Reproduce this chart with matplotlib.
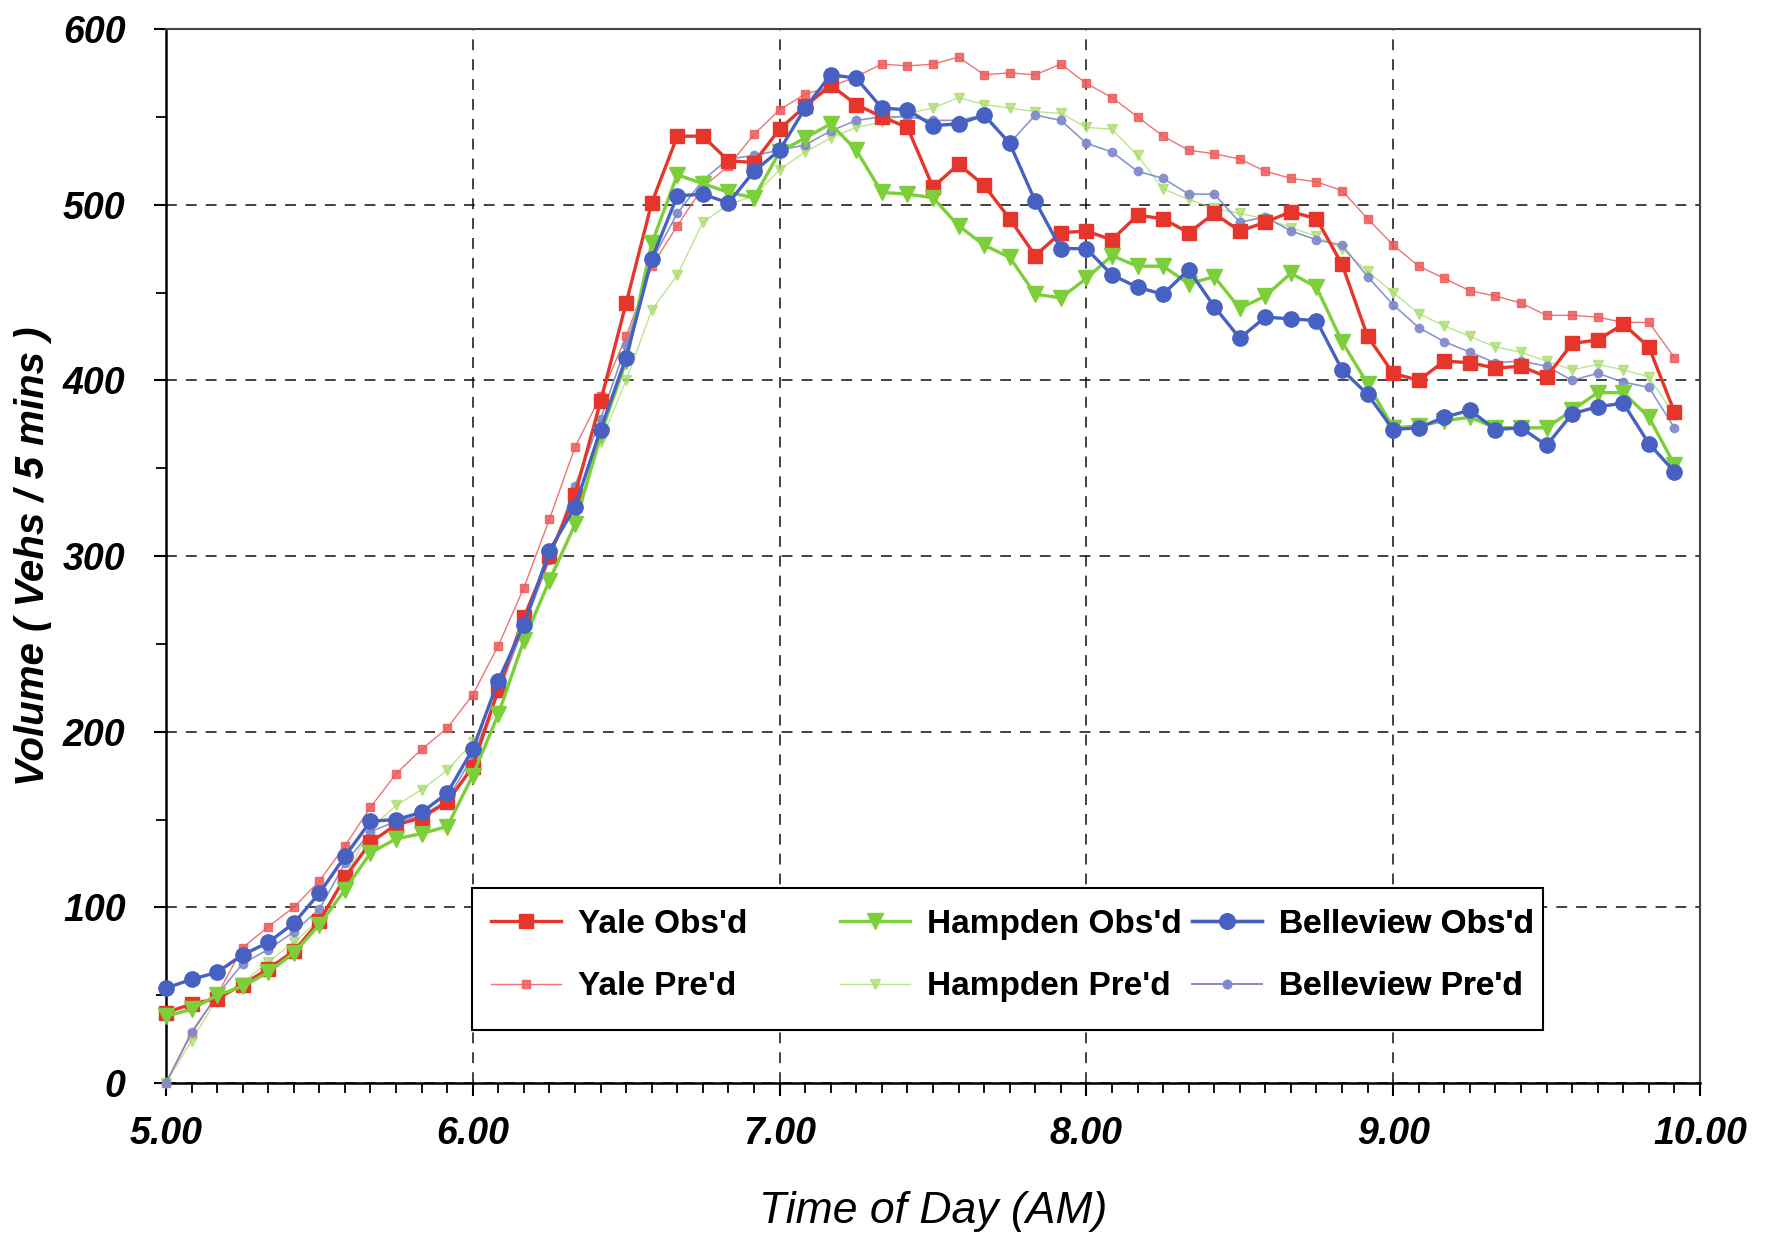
import matplotlib

matplotlib.use("Agg")
import matplotlib.pyplot as plt
from matplotlib.patches import Rectangle
from matplotlib.ticker import MultipleLocator

# 5-minute counts, 5:00 to 9:55 AM
times = [5 + m / 60 for m in range(0, 300, 5)]

yale_obs = [40, 45, 48, 56, 65, 75, 92, 117, 137, 147, 151, 160, 180,
            224, 265, 300, 335, 388, 444, 501, 539, 539, 525, 524,
            543, 556, 568, 557, 550, 544, 510, 523, 511, 492, 471, 484,
            485, 480, 494, 492, 484, 495, 485, 490, 496, 492, 466, 425,
            404, 400, 411, 410, 407, 408, 402, 421, 423, 432, 419, 382]
yale_pred = [0, 28, 50, 77, 89, 100, 115, 135, 157, 176, 190, 202, 221,
             249, 282, 321, 362, 391, 425, 465, 488, 510, 522, 540,
             554, 563, 567, 573, 580, 579, 580, 584, 574, 575, 574, 580,
             569, 561, 550, 539, 531, 529, 526, 519, 515, 513, 508, 492,
             477, 465, 458, 451, 448, 444, 437, 437, 436, 433, 433, 413]
hampden_obs = [38, 42, 50, 55, 63, 74, 90, 110, 131, 139, 142, 146, 175,
               210, 252, 286, 318, 369, 411, 478, 517, 512, 507, 504,
               530, 538, 546, 531, 507, 506, 504, 488, 477, 470, 449, 447,
               458, 471, 465, 465, 455, 459, 441, 448, 461, 453, 422, 398,
               373, 374, 377, 379, 373, 373, 373, 383, 393, 393, 379, 352]
hampden_pred = [0, 24, 48, 57, 69, 80, 93, 117, 145, 158, 167, 178, 194,
                212, 250, 288, 318, 365, 400, 440, 460, 490, 500, 505,
                520, 530, 538, 544, 547, 552, 555, 561, 557, 555, 553, 552,
                544, 543, 528, 509, 503, 498, 495, 492, 487, 482, 475, 462,
                450, 438, 431, 425, 419, 416, 411, 406, 409, 406, 402, 380]
belleview_obs = [54, 59, 63, 73, 80, 91, 108, 129, 149, 150, 154, 165, 190,
                 229, 261, 303, 328, 372, 413, 469, 505, 506, 501, 519,
                 531, 555, 574, 572, 555, 554, 545, 546, 551, 535, 502, 475,
                 475, 460, 453, 449, 463, 442, 424, 436, 435, 434, 406, 392,
                 372, 373, 379, 383, 372, 373, 363, 381, 385, 387, 364, 348]
belleview_pred = [0, 29, 50, 68, 76, 86, 99, 125, 143, 149, 152, 161, 186,
                  222, 260, 298, 340, 378, 420, 468, 495, 514, 526, 528,
                  531, 534, 542, 548, 550, 550, 548, 548, 551, 535, 551, 548,
                  535, 530, 519, 515, 506, 506, 490, 493, 485, 480, 477, 459,
                  443, 430, 422, 416, 410, 411, 408, 400, 404, 399, 396, 373]

x_ticks = [5, 6, 7, 8, 9, 10]
x_tick_labels = ["5.00", "6.00", "7.00", "8.00", "9.00", "10.00"]
y_ticks = [0, 100, 200, 300, 400, 500, 600]

RED = "#e6352a"
GREEN = "#7dcf3a"
BLUE = "#4761c2"

plt.rcParams["font.family"] = ["Liberation Sans", "DejaVu Sans"]

fig = plt.figure(figsize=(17.69, 12.40), dpi=100)
ax = fig.add_axes([0.0938, 0.1266, 0.8672, 0.85])

series = [
    ("Yale Pre'd", yale_pred, dict(color="#ee5a5a", lw=1.0, marker="s", ms=6, alpha=0.85)),
    ("Hampden Pre'd", hampden_pred, dict(color="#a8dc6a", lw=1.0, marker="v", ms=7, alpha=0.75)),
    ("Belleview Pre'd", belleview_pred, dict(color="#7f89cc", lw=1.2, marker="o", ms=6, alpha=0.9)),
    ("Yale Obs'd", yale_obs, dict(color=RED, lw=2.4, marker="s", ms=10)),
    ("Hampden Obs'd", hampden_obs, dict(color=GREEN, lw=2.4, marker="v", ms=11)),
    ("Belleview Obs'd", belleview_obs, dict(color=BLUE, lw=2.4, marker="o", ms=11)),
]
handles = {}
for name, vals, style in series:
    (line,) = ax.plot(times, vals, label=name, clip_on=False, zorder=3, **style)
    handles[name] = line

ax.set_xlim(5, 10)
ax.set_ylim(0, 600)
ax.set_xticks(x_ticks)
ax.set_xticklabels(x_tick_labels)
ax.set_yticks(y_ticks)
ax.xaxis.set_minor_locator(MultipleLocator(1 / 12))
ax.yaxis.set_minor_locator(MultipleLocator(50))
ax.tick_params(axis="both", which="major", direction="out", length=9, width=1.5, labelsize=27)
ax.tick_params(axis="x", which="major", pad=15)
ax.tick_params(axis="y", which="major", pad=20)
ax.tick_params(axis="both", which="minor", direction="out", length=7, width=1.3)
for lab in ax.get_xticklabels() + ax.get_yticklabels():
    lab.set_fontweight("bold")
    lab.set_fontstyle("italic")

ax.grid(True, which="major", color="black", linestyle=(0, (6, 5)), linewidth=1.3, alpha=0.8)
ax.set_axisbelow(True)
for side in ["left", "bottom"]:
    ax.spines[side].set_linewidth(1.8)
for side in ["top", "right"]:
    ax.spines[side].set_linewidth(1.5)
    ax.spines[side].set_color("#444444")

ax.set_xlabel("Time of Day (AM)", fontsize=32, fontstyle="italic", labelpad=28)
ax.set_ylabel("Volume ( Vehs / 5 mins )", fontsize=29, fontstyle="italic", fontweight="bold", labelpad=8)

# legend: one framed box with three equally spaced columns
box = Rectangle((0.1994, 0.0503), 0.6983, 0.1347, transform=ax.transAxes,
                facecolor="white", edgecolor="black", linewidth=1.5, zorder=4)
ax.add_patch(box)
columns = [
    (0.212, ["Yale Obs'd", "Yale Pre'd"]),
    (0.4394, ["Hampden Obs'd", "Hampden Pre'd"]),
    (0.6688, ["Belleview Obs'd", "Belleview Pre'd"]),
]
for x0, names in columns:
    leg = ax.legend([handles[n] for n in names], names, loc="center left",
                    bbox_to_anchor=(x0, 0.121), prop={"weight": "bold", "size": 24},
                    frameon=False, borderpad=0, borderaxespad=0, labelspacing=0.95,
                    handlelength=2.1, handletextpad=0.5)
    leg.set_zorder(5)
    ax.add_artist(leg)

fig.savefig("out.png", dpi=100)
